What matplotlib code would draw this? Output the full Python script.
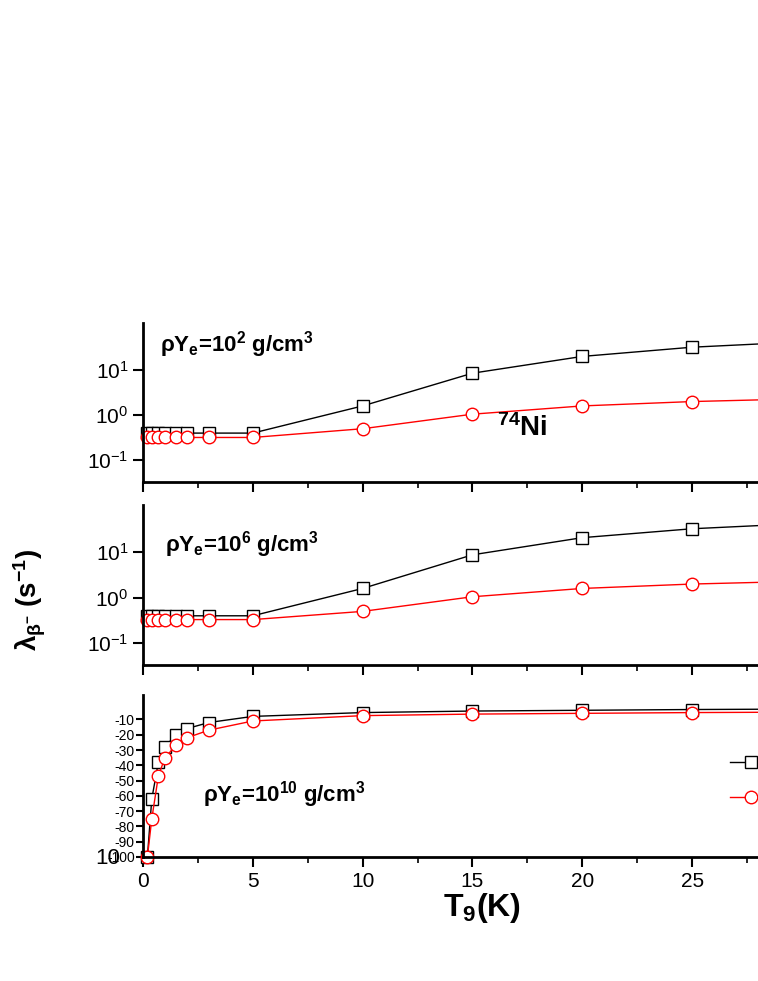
import matplotlib
matplotlib.use("Agg")
import matplotlib.pyplot as plt
import numpy as np

plt.rcParams['font.family'] = ['Liberation Sans', 'DejaVu Sans']
plt.rcParams['mathtext.fontset'] = 'custom'
plt.rcParams['mathtext.rm'] = 'Liberation Sans'
plt.rcParams['mathtext.it'] = 'Liberation Sans:italic'
plt.rcParams['mathtext.bf'] = 'Liberation Sans:bold'

T9 = [0.2, 0.4, 0.7, 1, 1.5, 2, 3, 5, 10, 15, 20, 25, 30]
p1_sq = [0.40, 0.40, 0.40, 0.40, 0.40, 0.40, 0.40, 0.40, 1.6, 8.5, 20, 32, 42]
p1_ci = [0.32, 0.32, 0.32, 0.32, 0.32, 0.32, 0.32, 0.32, 0.50, 1.05, 1.6, 2.0, 2.3]
p2_sq = [0.40, 0.40, 0.40, 0.40, 0.40, 0.40, 0.40, 0.40, 1.6, 8.8, 21, 33, 43]
p2_ci = [0.33, 0.33, 0.33, 0.33, 0.33, 0.33, 0.33, 0.33, 0.50, 1.05, 1.6, 2.0, 2.3]
p3_sq_exp = [-100, -62, -38, -28, -20, -16, -12, -8, -5.5, -4.5, -4, -3.5, -3.2]
p3_ci_exp = [-100, -75, -47, -35, -27, -22, -17, -11, -7.5, -6.5, -6, -5.5, -5.2]
ytick_exp3 = [-10, -20, -30, -40, -50, -60, -70, -80, -90, -100]

W, H = 758, 981
fig = plt.figure(figsize=(W/100, H/100), dpi=100)

def mkax(top, bot):
    return fig.add_axes([143/W, 1-bot/H, 1-143/W, (bot-top)/H])

ax1 = mkax(323, 482)
ax2 = mkax(505, 665)
ax3 = mkax(695, 857)

for ax in (ax1, ax2, ax3):
    for s in ('top', 'right'):
        ax.spines[s].set_visible(False)
    for s in ('left', 'bottom'):
        ax.spines[s].set_linewidth(2)
    ax.set_xlim(0, 28)
    ax.set_xticks([0, 5, 10, 15, 20, 25])
    ax.set_xticks(np.arange(2.5, 28, 5), minor=True)
    ax.tick_params(axis='both', which='major', width=1.5, length=7, labelsize=15)
    ax.tick_params(axis='both', which='minor', width=1.2, length=4)

mk = dict(markersize=9, markerfacecolor='white')
for ax, sq, ci in ((ax1, p1_sq, p1_ci), (ax2, p2_sq, p2_ci)):
    ax.set_yscale('log')
    ax.set_ylim(0.033, 110)
    ax.set_yticks([0.1, 1, 10])
    ax.plot(T9, sq, 's-', color='black', lw=1, clip_on=False, **mk)
    ax.plot(T9, ci, 'o-', color='red', lw=1, clip_on=False, **mk)
    ax.tick_params(axis='x', labelbottom=False)

sq3 = [10.0**e for e in p3_sq_exp]
ci3 = [10.0**e for e in p3_ci_exp]
ax3.set_yscale('log')
ax3.set_ylim(1e-100, 1e6)
ax3.plot(T9, sq3, 's-', color='black', lw=1, clip_on=False, label=' ', **mk)
ax3.plot(T9, ci3, 'o-', color='red', lw=1, clip_on=False, label=' ', **mk)
ax3.set_yticks([10.0**e for e in ytick_exp3])
ax3.set_yticklabels([str(e) for e in ytick_exp3], fontsize=10)
ax3.yaxis.set_minor_locator(matplotlib.ticker.NullLocator())
ax3.tick_params(axis='y', which='major', length=5, pad=1)
fig.text(95/W, 1-858/H, "10", fontsize=16, ha='left', va='center')

bf = dict(transform=fig.transFigure, fontsize=16, fontweight='bold', va='center')
ax1.text(160/W, 1-345/H, r"$\mathbf{\rho Y_e}$=10$^{\mathbf{2}}$ g/cm$^{\mathbf{3}}$", **bf)
ax1.text(497/W, 1-428/H, r"$^{\mathbf{74}}$Ni", transform=fig.transFigure,
         fontsize=20, fontweight='bold', va='center')
ax2.text(165/W, 1-545/H, r"$\mathbf{\rho Y_e}$=10$^{\mathbf{6}}$ g/cm$^{\mathbf{3}}$", **bf)
ax3.text(203/W, 1-795/H, r"$\mathbf{\rho Y_e}$=10$^{\mathbf{10}}$ g/cm$^{\mathbf{3}}$", **bf)

fig.text(30/W, 1-600/H, r"$\mathbf{\lambda_{\beta^{-}}}$ (s$^{\mathbf{-1}}$)", rotation=90,
         fontsize=20, fontweight='bold', ha='center', va='center')
fig.text(482/W, 1-908/H, r"T$_{\mathbf{9}}$(K)", fontsize=23, fontweight='bold',
         ha='center', va='center')

ax3.legend(loc='upper left', bbox_to_anchor=(712/W, 1-738/H), bbox_transform=fig.transFigure,
           frameon=False, fontsize=14, handlelength=2.2, labelspacing=0.9)

fig.savefig("out.png", dpi=100)
